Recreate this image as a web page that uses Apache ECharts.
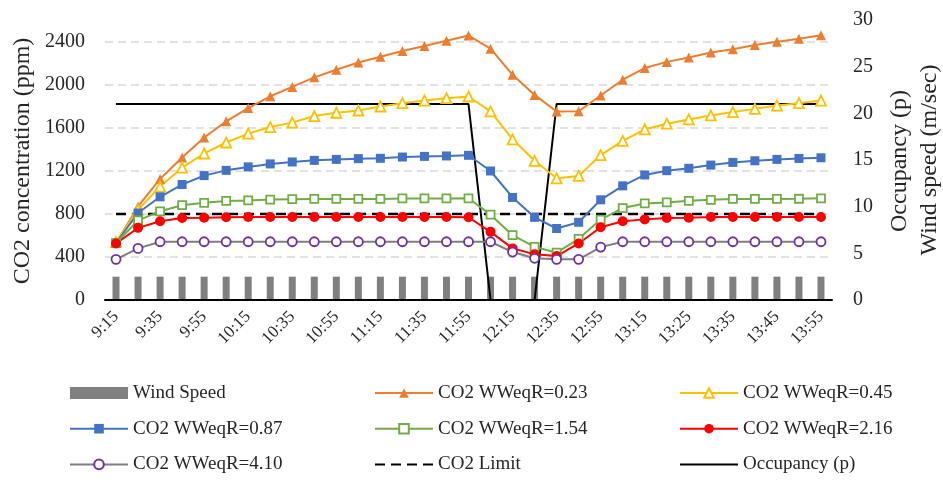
<!DOCTYPE html>
<html>
<head>
<meta charset="utf-8">
<script src="https://cdn.jsdelivr.net/npm/echarts@6/dist/echarts.min.js"></script>
<style>html,body{margin:0;padding:0;background:#fff;}#c{width:943px;height:480px;}</style>
</head>
<body>
<div id="c"></div>
<script>
const times = ['9:15','9:25','9:35','9:45','9:55','10:05','10:15','10:25','10:35','10:45','10:55','11:05','11:15','11:25','11:35','11:45','11:55','12:05','12:15','12:25','12:35','12:45','12:55','13:05','13:15','13:20','13:25','13:30','13:35','13:40','13:45','13:50','13:55'];
const windSpeed = [2.5,2.5,2.5,2.5,2.5,2.5,2.5,2.5,2.5,2.5,2.5,2.5,2.5,2.5,2.5,2.5,2.5,2.5,2.5,2.5,2.5,2.5,2.5,2.5,2.5,2.5,2.5,2.5,2.5,2.5,2.5,2.5,2.5];
const occupancy = [21,21,21,21,21,21,21,21,21,21,21,21,21,21,21,21,21,0,0,0,21,21,21,21,21,21,21,21,21,21,21,21,21];
const co2Limit = [800,800,800,800,800,800,800,800,800,800,800,800,800,800,800,800,800,800,800,800,800,800,800,800,800,800,800,800,800,800,800,800,800];
const co2_023 = [530,870,1126,1326,1511,1662,1785,1895,1982,2071,2142,2209,2262,2317,2363,2412,2460,2338,2095,1908,1754,1756,1902,2049,2158,2215,2255,2302,2332,2372,2403,2431,2462];
const co2_045 = [540,840,1055,1231,1363,1465,1548,1609,1650,1711,1742,1763,1800,1831,1855,1877,1893,1754,1495,1295,1132,1154,1348,1480,1588,1640,1680,1717,1748,1778,1809,1831,1855];
const co2_087 = [530,809,960,1074,1157,1206,1238,1266,1284,1299,1308,1315,1318,1330,1336,1340,1346,1200,954,769,665,723,932,1062,1163,1203,1225,1255,1280,1295,1308,1317,1323];
const co2_154 = [530,740,825,882,904,922,926,934,938,940,940,940,940,945,945,945,946,794,603,495,440,569,748,855,898,908,923,932,940,940,940,942,946];
const co2_216 = [526,671,732,763,766,770,772,772,772,772,772,772,772,772,772,772,770,634,480,425,409,526,677,732,750,763,765,772,772,772,772,772,772];
const co2_410 = [378,480,542,542,542,542,542,542,542,542,542,542,542,542,542,542,542,542,446,388,378,378,492,542,542,542,542,542,542,542,542,542,542];
const leftTicks = [0,400,800,1200,1600,2000,2400];
const rightTicks = [0,5,10,15,20,25,30];

const FONT = "'Liberation Serif', 'Times New Roman', serif";
const TXT = '#262626';

const chart = echarts.init(document.getElementById('c'));

function co2Series(name, data, color, symbol, size, hollow, lineColor) {
  return {
    name: name, type: 'line', xAxisIndex: 0, yAxisIndex: 0, data: data,
    symbol: symbol, symbolSize: size, clip: false,
    lineStyle: { color: lineColor || color, width: 2 },
    itemStyle: hollow ? { color: '#ffffff', borderColor: color, borderWidth: 1.8 } : { color: color, borderWidth: 0 },
    z: 3
  };
}

const legendCommon = {
  orient: 'vertical', itemWidth: 58, itemHeight: 12, itemGap: 15.7,
  textStyle: { fontFamily: FONT, fontSize: 19, color: TXT, lineHeight: 20 },
  padding: 0, selectedMode: false
};

chart.setOption({
  animation: false,
  backgroundColor: '#ffffff',
  grid: [
    { left: 105, right: 111, top: 42, bottom: 180 },
    { left: 105, right: 111, top: 20, bottom: 180 }
  ],
  xAxis: [
    { type: 'category', gridIndex: 0, data: times, boundaryGap: true,
      axisLine: { lineStyle: { color: '#000', width: 2 } }, axisTick: { show: false },
      axisLabel: { interval: 1, rotate: 45, fontFamily: FONT, fontSize: 17, color: TXT, margin: 14 },
      splitLine: { show: false }, z: 5 },
    { type: 'category', gridIndex: 1, data: times, boundaryGap: true, show: false }
  ],
  yAxis: [
    { type: 'value', gridIndex: 0, min: leftTicks[0], max: leftTicks[leftTicks.length - 1], interval: 400,
      axisLine: { show: false }, axisTick: { show: false },
      axisLabel: { fontFamily: FONT, fontSize: 20, color: TXT, margin: 20, formatter: function (v) { return String(v); } },
      splitLine: { show: true, lineStyle: { color: '#d9d9d9', width: 1.5, type: [8, 5] } } },
    { type: 'value', gridIndex: 1, position: 'right', min: rightTicks[0], max: rightTicks[rightTicks.length - 1], interval: 5,
      axisLine: { show: false }, axisTick: { show: false },
      axisLabel: { fontFamily: FONT, fontSize: 20, color: TXT, margin: 21 },
      splitLine: { show: false } }
  ],
  legend: [
    Object.assign({}, legendCommon, { left: 69, top: 383,
      data: [{ name: 'Wind Speed', icon: 'rect' }, 'CO2 WWeqR=0.87', 'CO2 WWeqR=4.10'] }),
    Object.assign({}, legendCommon, { left: 374, top: 383,
      data: ['CO2 WWeqR=0.23', 'CO2 WWeqR=1.54', { name: 'CO2 Limit', itemStyle: { opacity: 0 } }] }),
    Object.assign({}, legendCommon, { left: 679, top: 383,
      data: ['CO2 WWeqR=0.45', 'CO2 WWeqR=2.16', { name: 'Occupancy (p)', itemStyle: { opacity: 0 } }] })
  ],
  graphic: [
    { type: 'text', x: 23, y: 161, rotation: Math.PI / 2,
      style: { text: 'CO2 concentration (ppm)', font: "24px 'Liberation Serif', serif", fill: TXT, align: 'center', verticalAlign: 'middle' } },
    { type: 'text', x: 900, y: 161, rotation: Math.PI / 2,
      style: { text: 'Occupancy (p)', font: "24px 'Liberation Serif', serif", fill: TXT, align: 'center', verticalAlign: 'middle' } },
    { type: 'text', x: 930, y: 160, rotation: Math.PI / 2,
      style: { text: 'Wind speed (m/sec)', font: "24px 'Liberation Serif', serif", fill: TXT, align: 'center', verticalAlign: 'middle' } }
  ],
  series: [
    { name: 'Wind Speed', type: 'bar', xAxisIndex: 1, yAxisIndex: 1, data: windSpeed, barWidth: 7,
      itemStyle: { color: '#808080' }, z: 1 },
    co2Series('CO2 WWeqR=0.23', co2_023, '#ED7D31', 'triangle', 10, false),
    co2Series('CO2 WWeqR=0.45', co2_045, '#FFC000', 'triangle', 10, true),
    co2Series('CO2 WWeqR=0.87', co2_087, '#4472C4', 'rect', 9, false),
    co2Series('CO2 WWeqR=1.54', co2_154, '#70AD47', 'rect', 8, true),
    co2Series('CO2 WWeqR=2.16', co2_216, '#FF0000', 'circle', 10, false),
    co2Series('CO2 WWeqR=4.10', co2_410, '#7030A0', 'circle', 9, true, '#7F7F7F'),
    { name: 'CO2 Limit', type: 'line', xAxisIndex: 0, yAxisIndex: 0, data: co2Limit, symbol: 'none',
      lineStyle: { color: '#000', width: 2.5, type: [10, 6] }, itemStyle: { color: '#000' }, z: 2 },
    { name: 'Occupancy (p)', type: 'line', xAxisIndex: 1, yAxisIndex: 1, data: occupancy, symbol: 'none',
      lineStyle: { color: '#000', width: 2 }, itemStyle: { color: '#000' }, z: 2 }
  ]
});
</script>
</body>
</html>
